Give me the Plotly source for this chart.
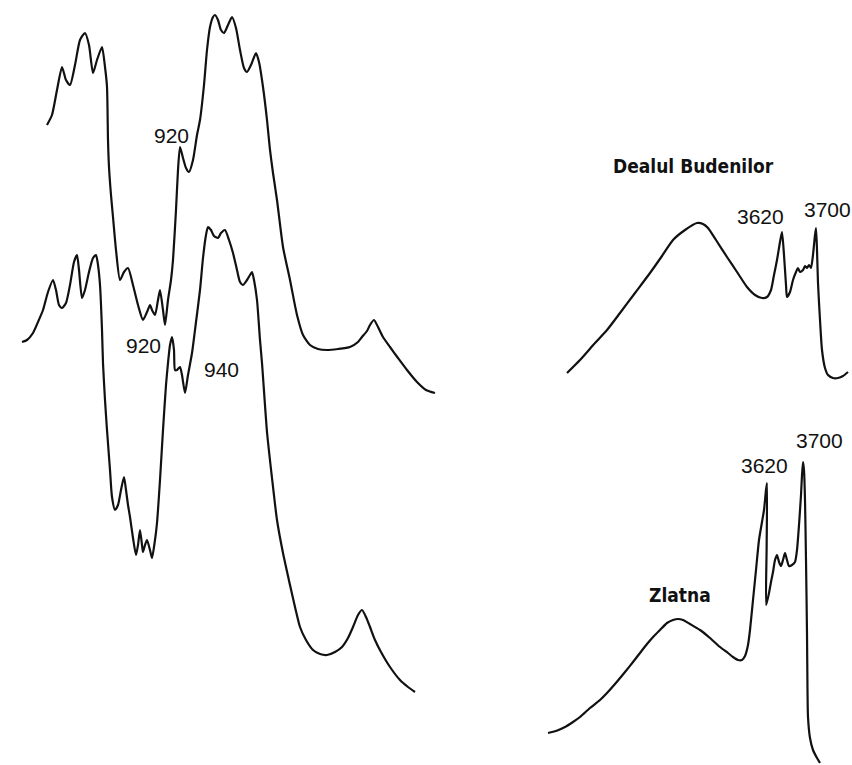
import plotly.graph_objects as go

# IR absorption traces (horizontal position, vertical position; y grows downward)
# Left panel, upper trace: 800-1200 cm-1 region
left_upper_x = [47, 52, 57, 62, 66, 70, 75, 80, 85, 89, 93, 97, 102, 105, 107, 108, 109, 111,
                113, 116, 120, 124, 128, 133, 138, 143, 147, 150, 152, 155, 158, 160, 163, 165,
                168, 171, 173, 176, 178, 180, 183, 186, 189, 193, 197, 200, 204, 207, 210, 213,
                215, 218, 221, 224, 228, 232, 236, 240, 244, 247, 251, 256, 259, 263, 267, 270,
                273, 277, 283, 290, 297, 303, 310, 318, 327, 338, 350, 358, 362, 367, 370, 374,
                378, 383, 390, 398, 407, 417, 426, 435]
left_upper_y = [125, 115, 90, 67, 80, 85, 65, 40, 33, 45, 73, 60, 47, 67, 87, 140, 167, 195,
                217, 250, 280, 272, 268, 285, 305, 320, 312, 305, 310, 315, 300, 290, 310, 325,
                300, 280, 260, 210, 170, 147, 158, 168, 172, 160, 135, 120, 85, 50, 27, 17,
                15, 20, 30, 33, 25, 17, 28, 50, 68, 72, 65, 53, 62, 87, 120, 150,
                173, 200, 247, 280, 315, 335, 345, 349, 350, 349, 347, 342, 337, 331, 325, 320,
                327, 337, 347, 358, 370, 382, 390, 393]

# Left panel, lower trace
left_lower_x = [22, 27, 33, 38, 43, 48, 53, 56, 59, 62, 66, 70, 74, 77, 79, 82, 85, 89, 93, 96,
                98, 100, 102, 103, 105, 107, 110, 112, 115, 118, 121, 124, 126, 128, 130, 133,
                136, 138, 140, 142, 143, 145, 147, 150, 152, 155, 157, 160, 163, 166, 168, 170,
                172, 174, 175, 177, 180, 182, 185, 188, 192, 196, 200, 203, 206, 208, 211, 214,
                218, 221, 225, 229, 233, 237, 240, 243, 247, 250, 252, 254, 257, 260, 262, 267,
                272, 277, 283, 290, 295, 300, 306, 313, 320, 327, 335, 342, 348, 353, 358, 362,
                366, 370, 375, 381, 390, 400, 408, 415]
left_lower_y = [342, 340, 333, 322, 310, 292, 280, 290, 305, 308, 303, 285, 262, 255, 270, 298,
                290, 272, 258, 255, 265, 285, 330, 363, 400, 430, 470, 497, 510, 505, 490, 477,
                490, 505, 517, 538, 555, 545, 530, 545, 552, 545, 540, 550, 558, 540, 523, 480,
                430, 385, 363, 345, 337, 350, 370, 370, 367, 375, 393, 375, 353, 322, 290, 258,
                235, 227, 230, 236, 238, 233, 230, 240, 253, 270, 282, 285, 280, 275, 272, 280,
                300, 340, 363, 432, 478, 520, 553, 585, 607, 627, 640, 650, 654, 655, 652, 647,
                638, 627, 615, 610, 617, 627, 640, 652, 667, 680, 687, 692]

# Right panel, upper trace: Dealul Budenilor, OH-stretching region
right_upper_x = [567, 580, 595, 607, 620, 635, 650, 662, 673, 685, 697, 703, 708, 716, 727, 737,
                 747, 755, 762, 767, 771, 774, 777, 780, 782, 784, 786, 787, 790, 793, 796, 798,
                 800, 803, 805, 807, 809, 811, 813, 815, 816, 817, 818, 820, 822, 825, 828, 833,
                 838, 843, 848]
right_upper_y = [373, 360, 343, 330, 313, 293, 273, 256, 240, 230, 223, 224, 228, 240, 257, 272,
                 287, 295, 298, 297, 290, 275, 260, 242, 232, 255, 285, 297, 292, 280, 272, 268,
                 272, 270, 266, 268, 265, 268, 255, 235, 228, 250, 283, 320, 350, 368, 375, 378,
                 378, 376, 372]

# Right panel, lower trace: Zlatna
right_lower_x = [548, 556, 565, 573, 580, 590, 600, 607, 615, 625, 633, 640, 647, 654, 660, 667,
                 673, 678, 683, 690, 700, 710, 720, 728, 733, 738, 742, 745, 748, 750, 753, 756,
                 759, 762, 764, 766, 767, 766.6, 766.2, 769, 771, 773, 775, 777, 779, 781, 783,
                 785, 787, 789, 792, 795, 797, 799, 801, 802, 803, 804, 805, 806, 807, 807.5,
                 808, 810, 813, 817, 820]
right_lower_y = [733, 731, 727, 722, 717, 708, 700, 693, 684, 672, 662, 653, 644, 636, 630, 623,
                 620, 619, 620, 624, 630, 638, 647, 653, 657, 660, 660, 656, 645, 630, 600, 570,
                 540, 522, 510, 490, 483, 550, 605, 593, 582, 572, 560, 555, 562, 566, 560,
                 553, 560, 566, 565, 562, 550, 525, 495, 475, 462, 470, 500, 560, 633, 690,
                 717, 738, 750, 758, 763]

# Band labels (cm-1) and sample names
band_labels = ["920", "920", "940", "3620", "3700", "3620", "3700"]
band_label_x = [171, 143, 221, 760, 827, 764, 819]
band_label_y = [135, 345, 369, 216, 209, 465, 440]
sample_names = ["Dealul Budenilor", "Zlatna"]
sample_name_x = [693, 680]
sample_name_y = [166, 595]

traces = [
    (left_upper_x, left_upper_y),
    (left_lower_x, left_lower_y),
    (right_upper_x, right_upper_y),
    (right_lower_x, right_lower_y),
]

fig = go.Figure()
for xs, ys in traces:
    fig.add_trace(go.Scatter(
        x=xs, y=ys, mode="lines",
        line=dict(color="#111111", width=2.2, shape="spline", smoothing=0.6),
        hoverinfo="skip", showlegend=False,
    ))

for txt, x, y in zip(band_labels, band_label_x, band_label_y):
    fig.add_annotation(x=x, y=y, text=txt, showarrow=False, xanchor="center", yanchor="middle",
                       font=dict(family="Liberation Sans, Arial, sans-serif", size=21, color="#111111"))

for txt, x, y in zip(sample_names, sample_name_x, sample_name_y):
    fig.add_annotation(x=x, y=y, text="<b>" + txt + "</b>", showarrow=False,
                       xanchor="center", yanchor="middle",
                       font=dict(family="DejaVu Sans Condensed, sans-serif",
                                 size=19, color="#111111"))

fig.update_layout(
    width=852, height=765,
    margin=dict(l=0, r=0, t=0, b=0),
    paper_bgcolor="white", plot_bgcolor="white",
    xaxis=dict(range=[0, 852], visible=False, fixedrange=True),
    yaxis=dict(range=[765, 0], visible=False, fixedrange=True),
)

fig.write_html("out.html")
